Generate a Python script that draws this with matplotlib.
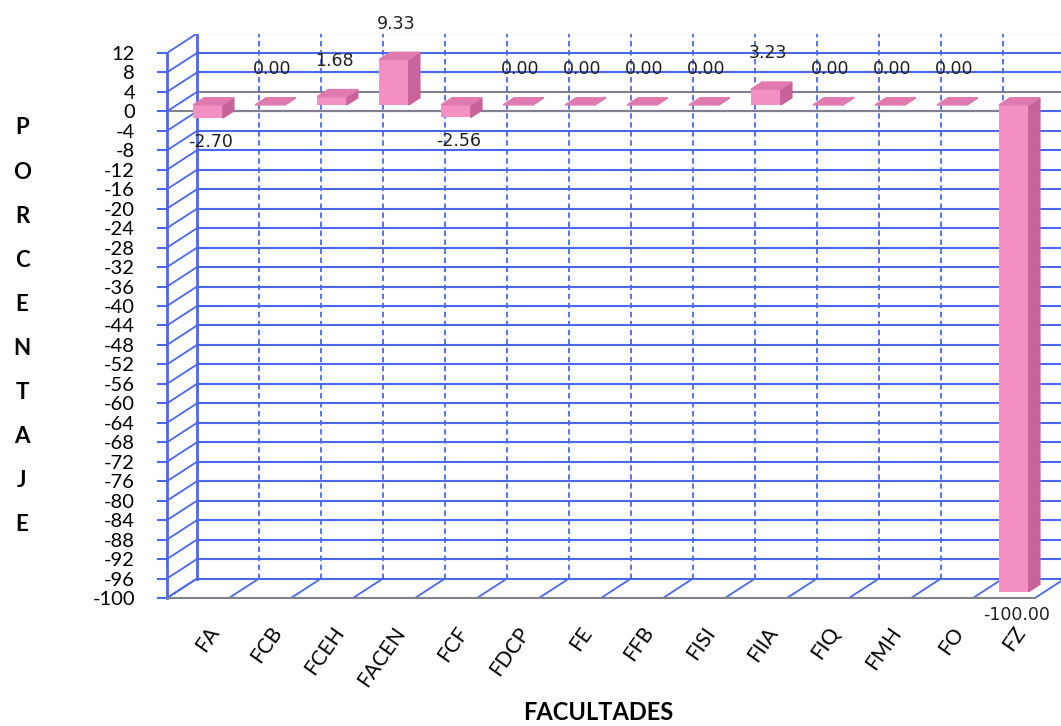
import numpy as np
import matplotlib.pyplot as plt
from matplotlib.patches import Polygon

# Data
facultades = ['FA', 'FCB', 'FCEH', 'FACEN', 'FCF', 'FDCP', 'FE', 'FFB',
              'FISI', 'FIIA', 'FIQ', 'FMH', 'FO', 'FZ']
porcentaje = [-2.70, 0.00, 1.68, 9.33, -2.56, 0.00, 0.00, 0.00,
              0.00, 3.23, 0.00, 0.00, 0.00, -100.00]
y_ticks = list(range(-100, 13, 4))
y_title = 'PORCENTAJE'
x_title = 'FACULTADES'

blue = '#4a68ee'
gray = '#80808f'
pink_front = '#f590c4'
pink_top = '#e07aae'
pink_side = '#c8629a'

# oblique "3D" depth offset in data units, and bar depth range
DX, DY = 0.484, 4.0
f0, f1 = 0.33, 0.70

fig = plt.figure(figsize=(10.61, 7.26), dpi=100)
ax = fig.add_axes([167 / 1061, 128 / 726, 894 / 1061, 564.5 / 726])
ax.set_xlim(-0.5, -0.5 + 894 / 62)
ax.set_ylim(-100, 16)

x = np.arange(len(facultades))
left, right = -0.5, len(x) - 0.5
ymin, ymax = y_ticks[0], y_ticks[-1]

# back wall grid
for v in y_ticks:
    c = gray if v == 0 else blue
    ax.plot([left + DX, right + DX], [v + DY, v + DY], color=c, lw=1.5, zorder=1)
for k in range(len(x) + 1):
    b = k - 0.5 + DX
    ls = '-' if k == 0 else (0, (3, 2))
    ax.plot([b, b], [ymin + DY, ymax + DY], color=blue, lw=1.3 if k else 2, ls=ls, zorder=1)

# side wall diagonals
for v in y_ticks:
    ax.plot([left, left + DX], [v, v + DY], color=blue, lw=1.3, zorder=1)

# floor diagonals
for k in range(len(x) + 1):
    b = k - 0.5
    ax.plot([b, b + DX], [ymin, ymin + DY], color=blue, lw=1.3, zorder=1)

# zero plane front line
ax.plot([left, right], [0, 0], color=gray, lw=1.5, zorder=1)

# bars: front faces, then top and side faces
d = f1 - f0
w = 0.48
ax.bar(x + f0 * DX, porcentaje, width=w, bottom=f0 * DY, color=pink_front, zorder=3)
for xi, v in zip(x, porcentaje):
    xl = xi + f0 * DX - w / 2
    xr = xl + w
    b = f0 * DY
    top = b + max(v, 0)
    bot = b + min(v, 0)
    ax.add_patch(Polygon([(xr, bot), (xr, top), (xr + d * DX, top + d * DY),
                          (xr + d * DX, bot + d * DY)], color=pink_side, zorder=3))
    ax.add_patch(Polygon([(xl, top), (xr, top), (xr + d * DX, top + d * DY),
                          (xl + d * DX, top + d * DY)], color=pink_top, zorder=3))
    ty = v + 8.7 if v >= 0 else v - 3.5
    ax.text(xi + 0.2, ty, f'{v:.2f}', ha='center', va='center', fontsize=12.5,
            family='DejaVu Sans', color='#202020', zorder=5)

# axes
for s in ['top', 'right']:
    ax.spines[s].set_visible(False)
ax.spines['left'].set_bounds(ymin, ymax)
ax.spines['left'].set_color(blue)
ax.spines['left'].set_linewidth(2)
ax.spines['bottom'].set_bounds(left, right)
ax.spines['bottom'].set_color(gray)
ax.spines['bottom'].set_linewidth(1.5)

ax.set_yticks(y_ticks)
ax.set_yticklabels([str(v) for v in y_ticks], family='Lato', fontsize=14.5)
ax.tick_params(axis='y', color=blue, length=7, width=1.5, pad=16)

ax.set_xticks(x + 0.15)
ax.set_xticklabels(facultades, rotation=55, ha='right', rotation_mode='anchor',
                   family='Lato', fontsize=15)
ax.tick_params(axis='x', length=0, pad=18)

# axis titles
for i, ch in enumerate(y_title):
    fig.text(22 / 1061, 1 - (128 + i * 44.1) / 726, ch, ha='center', va='center',
             family='Lato', fontweight='bold', fontsize=16)
fig.text(598 / 1061, 1 - 712 / 726, x_title, ha='center', va='center',
         family='Lato', fontweight='bold', fontsize=17)

fig.savefig('out.png', dpi=100)
